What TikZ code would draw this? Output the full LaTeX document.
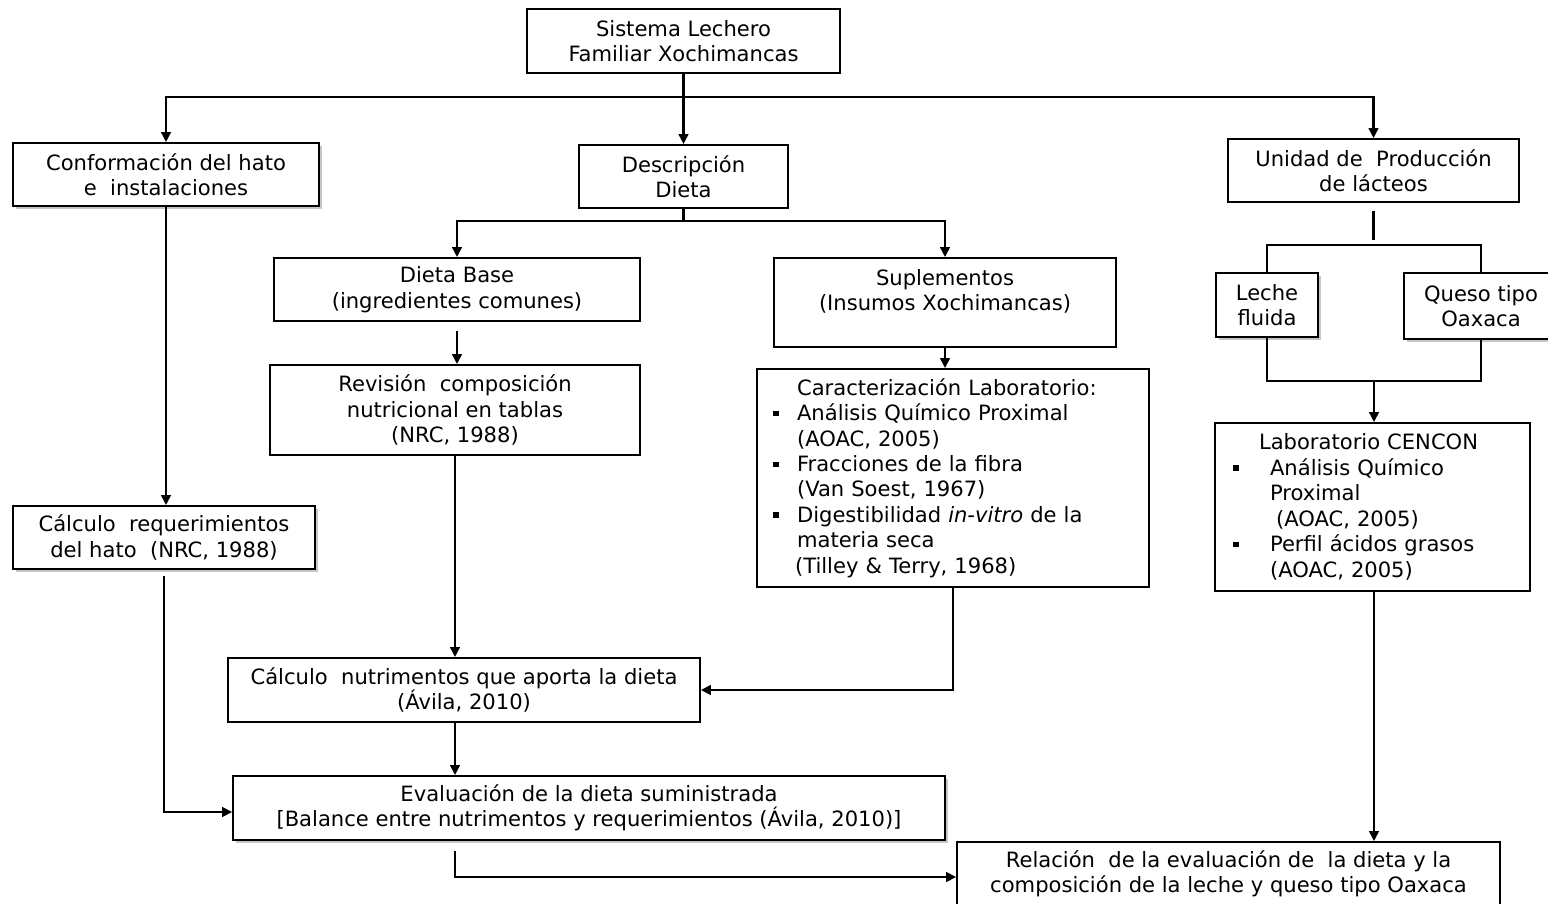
\documentclass[tikz,border=0pt]{standalone}
\usepackage{fontspec}
\setmainfont{DejaVu Sans}
\usetikzlibrary{arrows.meta, shadows}

\newcommand{\cuad}{\rule[0.09cm]{0.11cm}{0.11cm}}

\begin{document}
\begin{tikzpicture}[x=0.02cm, y=-0.02cm,
  box/.style={draw, line width=1pt, fill=white, align=center, inner sep=0pt,
    font=\fontsize{12}{14.5}\selectfont},
  sombra/.style={drop shadow={shadow xshift=0.06cm, shadow yshift=-0.06cm,
    opacity=0.45, fill=gray}},
  arr/.style={line width=1.4pt, -{Triangle[length=0.2cm, width=0.19cm]}},
  lin/.style={line width=1.4pt}]
  \useasboundingbox (0,0) rectangle (1548,903);

  % fila superior
  \node[box, minimum width=6.26cm, minimum height=1.28cm] (sis) at (683.5,41)
    {Sistema Lechero\\Familiar Xochimancas};
  \node[box, sombra, minimum width=6.12cm, minimum height=1.26cm] (conf) at (166,174.5)
    {Conformación del hato\\e\ \ instalaciones};
  \node[box, minimum width=4.18cm, minimum height=1.26cm] (desc) at (683.5,176.5)
    {Descripción\\Dieta};
  \node[box, minimum width=5.82cm, minimum height=1.26cm] (unid) at (1373.5,170.5)
    {Unidad de\ \ Producción\\de lácteos};

  % dieta
  \node[box, minimum width=7.32cm, minimum height=1.26cm] (base) at (457,289.5)
    {Dieta Base\\(ingredientes comunes)};
  \node[box, minimum width=6.84cm, minimum height=1.78cm] (supl) at (945,302.5)
    {Suplementos\\(Insumos Xochimancas)\rule[-0.5cm]{0pt}{0.5cm}};
  \node[box, minimum width=7.40cm, minimum height=1.80cm] (revi) at (455,410)
    {Revisión\ \ composición\\nutricional en tablas\\(NRC, 1988)};
  \node[box, align=left, inner xsep=0.32cm, text width=7.2cm,
    minimum width=7.84cm, minimum height=4.36cm] (cara) at (953,478)
    {\hspace*{0.48cm}Caracterización Laboratorio:\\
     \makebox[0.48cm][l]{\cuad}Análisis Químico Proximal\\
     \hspace*{0.48cm}(AOAC, 2005)\\
     \makebox[0.48cm][l]{\cuad}Fracciones de la fibra\\
     \hspace*{0.48cm}(Van Soest, 1967)\\
     \makebox[0.48cm][l]{\cuad}Digestibilidad \textit{in-vitro} de la\\
     \hspace*{0.48cm}materia seca\\
     \hspace*{0.44cm}(Tilley \& Terry, 1968)};

  % lacteos
  \node[box, sombra, minimum width=2.04cm, minimum height=1.28cm] (lech) at (1267,305)
    {Leche\\fluida};
  \node[box, sombra, minimum width=3.08cm, minimum height=1.32cm] (ques) at (1481,306)
    {Queso tipo\\Oaxaca};
  \node[box, align=left, inner xsep=0.36cm, text width=5.58cm,
    minimum width=6.30cm, minimum height=3.36cm] (cenc) at (1372.5,507)
    {\hspace*{0.52cm}Laboratorio CENCON\\
     \makebox[0.74cm][l]{\cuad}Análisis Químico\\
     \hspace*{0.74cm}Proximal\\
     \hspace*{0.86cm}(AOAC, 2005)\\
     \makebox[0.74cm][l]{\cuad}Perfil ácidos grasos\\
     \hspace*{0.74cm}(AOAC, 2005)};

  % calculos y evaluacion
  \node[box, sombra, minimum width=6.04cm, minimum height=1.26cm] (creq) at (164,537.5)
    {Cálculo\ \ requerimientos\\del hato\ \ (NRC, 1988)};
  \node[box, minimum width=9.44cm, minimum height=1.28cm] (cnut) at (464,690)
    {Cálculo\ \ nutrimentos que aporta la dieta\\(Ávila, 2010)};
  \node[box, sombra, minimum width=14.24cm, minimum height=1.28cm] (eval) at (589,808)
    {Evaluación de la dieta suministrada\\{[}Balance entre nutrimentos y requerimientos (Ávila, 2010){]}};
  \node[box, minimum width=10.86cm, minimum height=1.26cm] (rela) at (1228.5,873.5)
    {Relación\ \ de la evaluación de\ \ la dieta y la\\composición de la leche y queso tipo Oaxaca};

  % conectores
  \coordinate (bar) at (683.5,97);
  \coordinate (bar2) at (683.5,221);
  \coordinate (bar3) at (1374,245);
  \coordinate (bar4) at (1374,381);

  \draw[arr] (sis.south) -- (desc.north);
  \draw[arr] (bar) -| (conf.north);
  \draw[arr] (bar) -| (unid.north);
  \draw[lin] (desc.south) -- (bar2);
  \draw[arr] (bar2) -| (base.north);
  \draw[arr] (bar2) -| (supl.north);

  \draw[arr, shorten <=0.18cm] (base.south) -- (base.south |- revi.north);
  \draw[arr] (supl.south) -- (supl.south |- cara.north);
  \draw[arr] (conf.south) -- (conf.south |- creq.north);
  \draw[arr] (revi.south) -- (revi.south |- cnut.north);
  \draw[arr] (cara.south) |- (cnut.east);
  \draw[arr] (revi.south |- cnut.south) -- (revi.south |- eval.north);
  \draw[arr, shorten <=0.12cm] (creq.south) |- ([yshift=-0.08cm]eval.west);
  \draw[arr, shorten <=0.2cm] (revi.south |- eval.south) |- ([yshift=-0.07cm]rela.west);

  % productos lacteos
  \draw[lin, shorten <=0.16cm, shorten >=0.1cm] (unid.south) -- (unid.south |- bar3);
  \draw[lin] (lech.north) -- (lech.north |- bar3) -| (ques.north);
  \draw[lin] (lech.south) |- (bar4) -| (ques.south);
  \draw[arr] (bar4) -- (bar4 |- cenc.north);
  \draw[arr] (bar4 |- cenc.south) -- (bar4 |- rela.north);
\end{tikzpicture}
\end{document}
